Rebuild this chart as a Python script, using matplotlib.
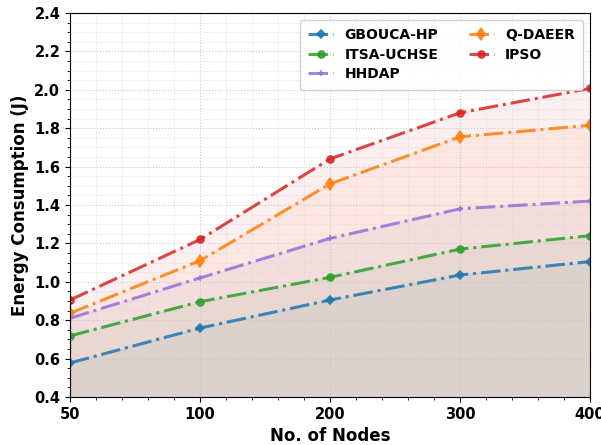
import matplotlib
matplotlib.use("Agg")
import matplotlib.pyplot as plt
import numpy as np
from matplotlib.ticker import MultipleLocator, AutoMinorLocator

nodes = ["50", "100", "200", "300", "400"]
gbouca_hp = [0.577, 0.759, 0.905, 1.035, 1.105]
itsa_uchse = [0.718, 0.896, 1.023, 1.170, 1.240]
hhdap = [0.810, 1.020, 1.226, 1.380, 1.420]
q_daeer = [0.836, 1.110, 1.510, 1.755, 1.815]
ipso = [0.905, 1.220, 1.640, 1.880, 2.007]

series = [
    ("GBOUCA-HP", gbouca_hp, "tab:blue", "D", 4.5),
    ("ITSA-UCHSE", itsa_uchse, "tab:green", "o", 5),
    ("HHDAP", hhdap, "mediumpurple", "+", 5),
    ("Q-DAEER", q_daeer, "tab:orange", "d", 6),
    ("IPSO", ipso, "tab:red", "o", 5),
]

fig = plt.figure(figsize=(6.01, 4.45), dpi=100)
ax = fig.add_axes([0.1165, 0.108, 0.8655, 0.863])

x = np.arange(len(nodes))
for name, vals, col, mk, ms in series:
    ax.plot(x, vals, linestyle="-.", color=col, marker=mk, markersize=ms,
            linewidth=2.2, alpha=0.85, label=name, markeredgewidth=1.2)
    ax.fill_between(x, 0, vals, color=col, alpha=0.07)

ax.set_xlim(0, len(nodes) - 1)
ax.set_ylim(0.4, 2.4)
ax.set_xticks(x)
ax.set_xticklabels(nodes)
ax.xaxis.set_minor_locator(AutoMinorLocator(5))
ax.yaxis.set_major_locator(MultipleLocator(0.2))
ax.yaxis.set_minor_locator(MultipleLocator(0.05))
ax.grid(which="major", linestyle=":", color="#c8c8c8", linewidth=0.8)
ax.grid(which="minor", linestyle=":", color="#d8d8d8", linewidth=0.6)

for lbl in ax.get_xticklabels() + ax.get_yticklabels():
    lbl.set_fontweight("bold")
    lbl.set_fontsize(10.5)

ax.set_xlabel("No. of Nodes", fontsize=12, fontweight="bold")
ax.set_ylabel("Energy Consumption (J)", fontsize=12, fontweight="bold")

ax.legend(loc="upper right", ncol=2, prop={"weight": "bold", "size": 10},
          framealpha=0.9, columnspacing=2.2, handlelength=1.8,
          borderpad=0.6, labelspacing=0.4)

fig.savefig("out.png", dpi=100)
